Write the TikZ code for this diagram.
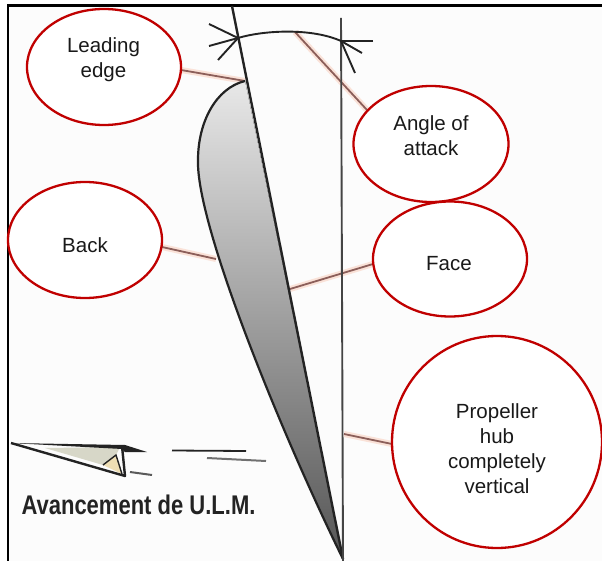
\documentclass[tikz,border=0pt]{standalone}
\usepackage{fontspec}
\setmainfont{Liberation Sans}
\usetikzlibrary{shapes.geometric}
\definecolor{callout}{RGB}{192,0,0}
\definecolor{leader}{RGB}{140,95,90}
\definecolor{halo}{RGB}{250,226,216}
\definecolor{ink}{RGB}{35,35,35}
\definecolor{planefill}{RGB}{238,222,180}
\definecolor{planegrey}{RGB}{215,215,200}
\definecolor{paper}{RGB}{252,252,252}
\definecolor{bladetop}{RGB}{232,232,232}
\definecolor{blademid}{RGB}{145,145,145}
\definecolor{bladebot}{RGB}{85,85,85}
\tikzset{
  x=1pt,y=-1pt,
  bubble/.style={draw=callout,line width=2.3pt,fill=white,ellipse,inner sep=0pt,outer sep=0pt},
  bubbletext/.style={align=center,inner sep=0pt,text=black!90,font=\fontsize{20.5}{25}\selectfont},
  leaderline/.style={draw=leader,line width=1.8pt,preaction={draw=halo,line width=6pt}},
  inkline/.style={draw=ink,line width=2.2pt},
}
\begin{document}
\begin{tikzpicture}
\useasboundingbox (0,0) rectangle (602,561);
\fill[white] (0,0) rectangle (602,561);
\fill[paper] (8,5) rectangle (602,561);
% frame
\draw[black,line width=2.4pt] (8,561) -- (8,5.5) -- (602,5.5);
% leaders first, over the paper, under the drawing
\coordinate (leadend) at (245,81);
\coordinate (backend) at (216,259);
\coordinate (faceend) at (290,289);
\coordinate (hubend) at (344,434);
\coordinate (angleend) at (295,32);
\coordinate (leadstart) at (181,70);
\coordinate (backstart) at (162,247);
\coordinate (facestart) at (373,264);
\coordinate (hubstart) at (392,444);
\coordinate (anglestart) at (367,110);
\draw[leaderline] (leadstart) -- (leadend);
\draw[leaderline] (backstart) -- (backend);
\draw[leaderline] (facestart) -- (faceend);
\draw[leaderline] (hubstart) -- (hubend);
\draw[leaderline] (anglestart) -- (angleend);
% blade
\coordinate (le) at (245,81);
\coordinate (te) at (343,559);
\fill[top color=bladetop,middle color=blademid,bottom color=bladebot]
  (le) .. controls (216,88) and (198,122) .. (198,160)
  .. controls (196,225) and (282,435) .. (te) -- cycle;
\draw[inkline] (le) .. controls (216,88) and (198,122) .. (198,160)
  .. controls (196,225) and (282,435) .. (te);
\coordinate (chordtop) at (232,6);
\draw[inkline,line width=2.4pt] (chordtop) -- (te);
\coordinate (hubtop) at (341,18);
\coordinate (hubbot) at (343,561);
\draw[ink!85,line width=1.9pt] (hubtop) -- (hubbot);
% angle arc
\coordinate (arcl) at (238,38);
\coordinate (arcr) at (341,41);
\draw[inkline,line width=1.9pt] (arcl) .. controls (265,30) and (312,28) .. (arcr);
\coordinate (a1) at (209,24); \coordinate (a2) at (209,46); \coordinate (a3) at (218,60);
\coordinate (b1) at (373,41); \coordinate (b2) at (362,53); \coordinate (b3) at (355,73);
\foreach \p in {a1,a2,a3}{\draw[inkline,line width=1.9pt] (\p) -- (arcl);}
\foreach \p in {b1,b2,b3}{\draw[inkline,line width=1.9pt] (\p) -- (arcr);}
% bubbles
\node[bubble,minimum width=154pt,minimum height=116pt] (lead) at (104,67) {};
\node[bubble,minimum width=154pt,minimum height=116pt] (back) at (85,240) {};
\node[bubble,minimum width=155pt,minimum height=116pt] (angle) at (431,144) {};
\node[bubble,minimum width=154pt,minimum height=115pt] (face) at (450,259) {};
\node[bubble,minimum width=210pt,minimum height=212pt] (hub) at (497,442) {};
\node[bubbletext] (leadt) at (103.5,60) {Leading\\edge};
\node[bubbletext] (backt) at (85,245) {Back};
\node[bubbletext] (anglet) at (431,136) {Angle of\\attack};
\node[bubbletext] (facet) at (449,264) {Face};
\node[bubbletext] (hubt) at (497,448.5) {Propeller\\hub\\completely\\vertical};
% plane
\coordinate (nose) at (11,443);
\coordinate (wingtop) at (125,445);
\coordinate (tail) at (147,452);
\coordinate (wingbot) at (125,476);
\fill[planegrey] (45,448) -- (120,447) -- (116,455) -- (103,465) -- cycle;
\fill[planefill] (103,465) -- (116,455) -- (122,474) -- cycle;
\fill[ink] (nose) -- (wingtop) -- (tail) -- (125,452) -- (122,449) -- cycle;
\draw[ink,line width=2.4pt,line join=round] (nose) -- (wingbot) -- (122,446);
\draw[ink,line width=1.4pt] (103,465) -- (116,455) -- (122,474);
\coordinate (s1a) at (130,472); \coordinate (s1b) at (152,475);
\coordinate (s2a) at (172,450.5); \coordinate (s2b) at (246,451);
\coordinate (s3a) at (207,458); \coordinate (s3b) at (266,461);
\draw[ink!75,line width=2pt] (s1a) -- (s1b);
\draw[ink,line width=1.8pt] (s2a) -- (s2b);
\draw[ink!65,line width=2pt] (s3a) -- (s3b);
\node[inner sep=0pt,font=\bfseries\fontsize{27}{28}\selectfont,text=ink,xscale=.815] (cap) at (138.5,505) {Avancement de U.L.M.};
\end{tikzpicture}
\end{document}
